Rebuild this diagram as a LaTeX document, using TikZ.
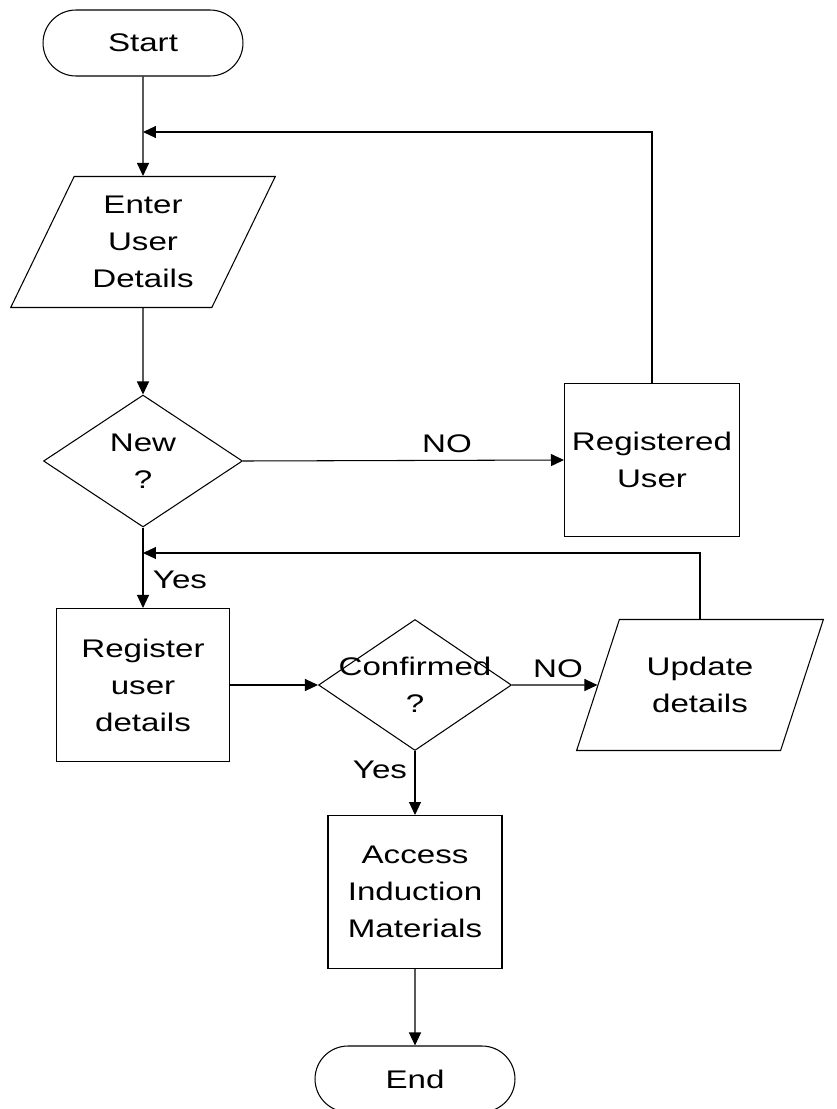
\documentclass[tikz,border=0pt]{standalone}
\usepackage{fontspec}
\setmainfont[FakeStretch=1.3]{Liberation Sans}
\usetikzlibrary{shapes.geometric,shapes.misc,arrows.meta}

\tikzset{
	base/.style={draw, line width=0.6pt, align=center, inner sep=0pt, font=\fontsize{14.5}{21}\selectfont},
	term/.style={base, rounded rectangle, minimum width=4cm, minimum height=1.32cm},
	io/.style={base, trapezium, trapezium left angle=63, trapezium right angle=117, trapezium stretches=true, minimum height=2.62cm},
	proc/.style={base, rectangle, minimum width=3.48cm, minimum height=3.06cm},
	decision/.style={base, diamond, minimum height=2.64cm},
	flow/.style={line width=0.6pt, -{Triangle[length=0.26cm,width=0.24cm]}},
	lbl/.style={font=\fontsize{14.5}{21}\selectfont}
}

\begin{document}
\begin{tikzpicture}[x=0.02cm, y=-0.02cm]
				\useasboundingbox (0,0) rectangle (836,1109);
				\node[term] (start) at (143,43) {Start};
				\node[io, minimum width=5.3cm] (enter) at (143,242) {Enter\\User\\Details};
				\node[decision, minimum width=3.98cm] (new) at (143,461) {New\\?};
				\node[proc, minimum width=3.5cm] (known) at (652,460) {Registered\\User};
				\node[proc, minimum width=3.46cm] (reg) at (143,685) {Register\\user\\details};
				\node[decision, minimum width=3.86cm, minimum height=2.62cm] (conf) at (415,685) {\makebox[0pt]{Confirmed}\\?};
				\node[io, minimum width=4.96cm] (upd) at (700,685) {Update\\details};
				\node[proc] (acc) at (415,892) {Access\\Induction\\Materials};
				\node[term] (end) at (415,1079) {End};
				\coordinate (back1) at (143,132);
				\coordinate (back2) at (143,553);
				\draw[flow] (start) -- (enter);
				\draw[flow] (enter) -- (new);
				\draw[flow] (new.east) -- (known.west);
				\node[lbl] (no1) at (447,444) {NO};
				\draw[flow] (known.north) |- (back1);
				\draw[flow] (new.south) -- (reg.north);
				\node[lbl] (yes1) at (180,580) {Yes};
				\draw[flow] (reg.east) -- (conf.west);
				\draw[flow] (conf.east) -- (upd.west);
				\node[lbl] (no2) at (558,669) {NO};
				\draw[flow] (upd.north) |- (back2);
				\draw[flow] (conf.south) -- (acc.north);
				\node[lbl] (yes2) at (380,770) {Yes};
				\draw[flow] (acc) -- (end);
			\end{tikzpicture}
\end{document}
